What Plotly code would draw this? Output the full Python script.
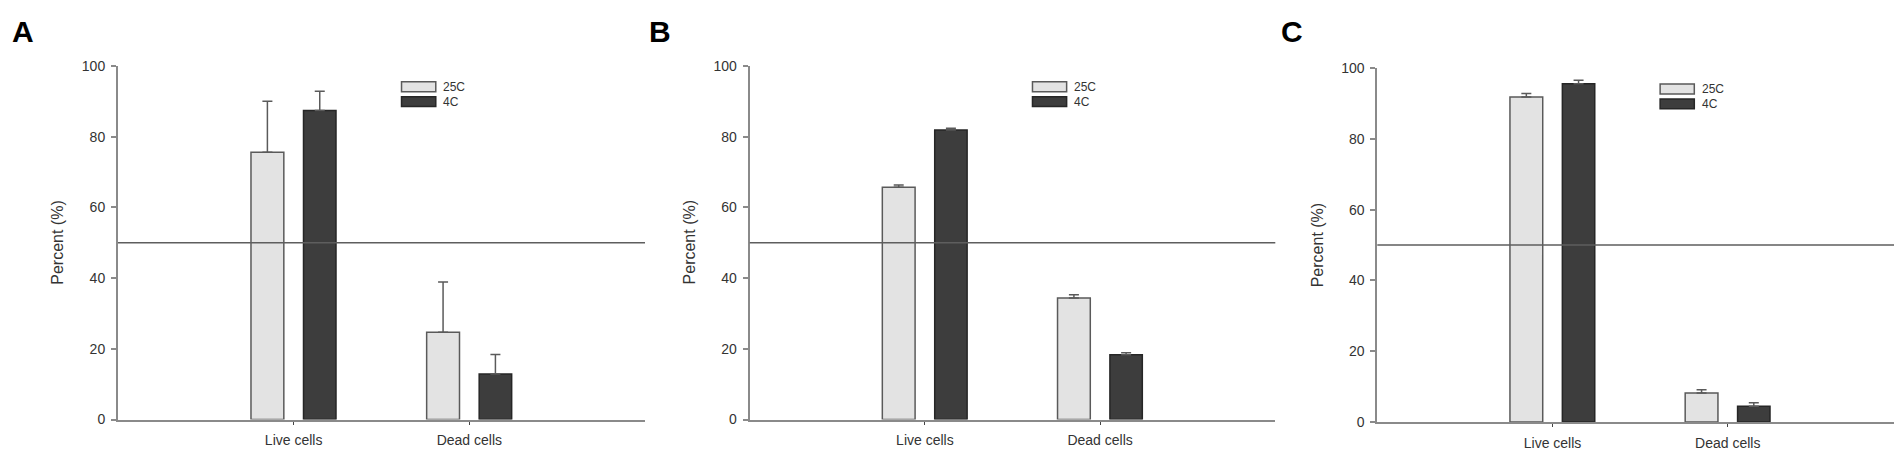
import plotly.graph_objects as go
from plotly.subplots import make_subplots

# values (percent of cells)
categories = ["Live cells", "Dead cells"]
series_names = ["25C", "4C"]
panel_letters = ["A", "B", "C"]

a_25c = [75.6, 24.7]
a_25c_err = [14.4, 14.2]
a_4c = [87.4, 12.9]
a_4c_err = [5.4, 5.5]

b_25c = [65.7, 34.4]
b_25c_err = [0.6, 0.9]
b_4c = [81.9, 18.3]
b_4c_err = [0.5, 0.6]

c_25c = [91.8, 8.2]
c_25c_err = [1.0, 0.9]
c_4c = [95.6, 4.4]
c_4c_err = [1.0, 1.0]

threshold = 50
y_ticks = [0, 20, 40, 60, 80, 100]

panels = [
    (a_25c, a_25c_err, a_4c, a_4c_err),
    (b_25c, b_25c_err, b_4c, b_4c_err),
    (c_25c, c_25c_err, c_4c, c_4c_err),
]

W, H = 1902, 455
FONT = "Liberation Sans, Arial, sans-serif"
LIGHT = "#e3e3e3"
DARK = "#3d3d3d"
EDGE_LIGHT = "#5a5a5a"
EDGE_DARK = "#262626"
AXIS = "#8a8a8a"
TEXT = "#333333"

# pixel geometry of each panel: (x left, x right, y of 100, y of 0)
geom = [
    (110, 637, 51.7, 418.3),
    (741.7, 1267.3, 51.7, 418.3),
    (1369.3, 1895, 54, 420.7),
]
letter_x = [3, 640, 1272]

fig = make_subplots(rows=1, cols=3)

for i, (s25, e25, s4, e4) in enumerate(panels):
    col = i + 1
    fig.add_trace(go.Bar(
        x=categories, y=s25, name=series_names[0],
        width=0.187, offset=-0.243,
        marker=dict(color=LIGHT, line=dict(color=EDGE_LIGHT, width=1.5)),
        error_y=dict(type="data", array=e25, arrayminus=[0, 0], symmetric=False,
                     color="#5a5a5a", thickness=1.5, width=5),
        showlegend=False,
    ), row=1, col=col)
    fig.add_trace(go.Bar(
        x=categories, y=s4, name=series_names[1],
        width=0.185, offset=0.056,
        marker=dict(color=DARK, line=dict(color=EDGE_DARK, width=1.5)),
        error_y=dict(type="data", array=e4, arrayminus=[0, 0], symmetric=False,
                     color="#5a5a5a", thickness=1.5, width=5),
        showlegend=False,
    ), row=1, col=col)

fig.update_layout(barmode="overlay")

for i, (x0, x1, ytop, ybot) in enumerate(geom):
    xa = "xaxis" if i == 0 else f"xaxis{i + 1}"
    ya = "yaxis" if i == 0 else f"yaxis{i + 1}"
    xr = "x" if i == 0 else f"x{i + 1}"
    yr = "y" if i == 0 else f"y{i + 1}"
    fig.layout[xa].update(
        domain=[x0 / W, x1 / W], range=[-1, 2], type="category",
        showline=True, linecolor=AXIS, linewidth=2, showgrid=False, zeroline=False,
        ticks="outside", ticklen=3, tickcolor="#444", tickwidth=1,
        tickfont=dict(family=FONT, size=14, color=TEXT), ticklabelstandoff=4,
    )
    fig.layout[ya].update(
        domain=[1 - ybot / H, 1 - ytop / H], range=[0, 100],
        tickvals=y_ticks, showline=True, linecolor=AXIS, linewidth=2,
        showgrid=False, zeroline=False,
        ticks="outside", ticklen=5, tickcolor=AXIS, tickwidth=1.5,
        tickfont=dict(family=FONT, size=14, color=TEXT), ticklabelstandoff=3,
    )

    # 50 % reference line across the whole axis
    fig.add_shape(type="line", xref=f"{xr} domain", yref=yr,
                  x0=0, x1=1, y0=threshold, y1=threshold,
                  line=dict(color="#5e5e5e", width=1.5), layer="above")

    # y axis title
    fig.add_annotation(x=(x0 - 60) / W, y=1 - ((ytop + ybot) / 2) / H,
                       xref="paper", yref="paper", text="Percent (%)",
                       textangle=-90, showarrow=False, xanchor="center", yanchor="middle",
                       font=dict(family=FONT, size=16, color=TEXT))

    # panel letter
    fig.add_annotation(x=letter_x[i] / W, y=1 - 16.5 / H, xref="paper", yref="paper",
                       text=f"<b>{panel_letters[i]}</b>", showarrow=False,
                       xanchor="left", yanchor="middle", borderpad=0,
                       font=dict(family=FONT, size=30, color="black"))

    # legend box drawn inside the axis area
    rows = [(0.927, 0.955, LIGHT, EDGE_LIGHT), (0.885, 0.913, DARK, EDGE_DARK)]
    for name, (yb, yt, fill, edge) in zip(series_names, rows):
        fig.add_shape(type="rect", xref=f"{xr} domain", yref=f"{yr} domain",
                      x0=0.538, x1=0.603, y0=yb, y1=yt,
                      fillcolor=fill, line=dict(color=edge, width=1.5))
        fig.add_annotation(x=0.613, y=(yb + yt) / 2, xref=f"{xr} domain", yref=f"{yr} domain",
                           text=name, showarrow=False, xanchor="left", yanchor="middle",
                           font=dict(family=FONT, size=12, color=TEXT))

fig.update_layout(
    width=W, height=H,
    margin=dict(l=0, r=0, t=0, b=0),
    paper_bgcolor="white", plot_bgcolor="white",
)

fig.write_html("out.html")
